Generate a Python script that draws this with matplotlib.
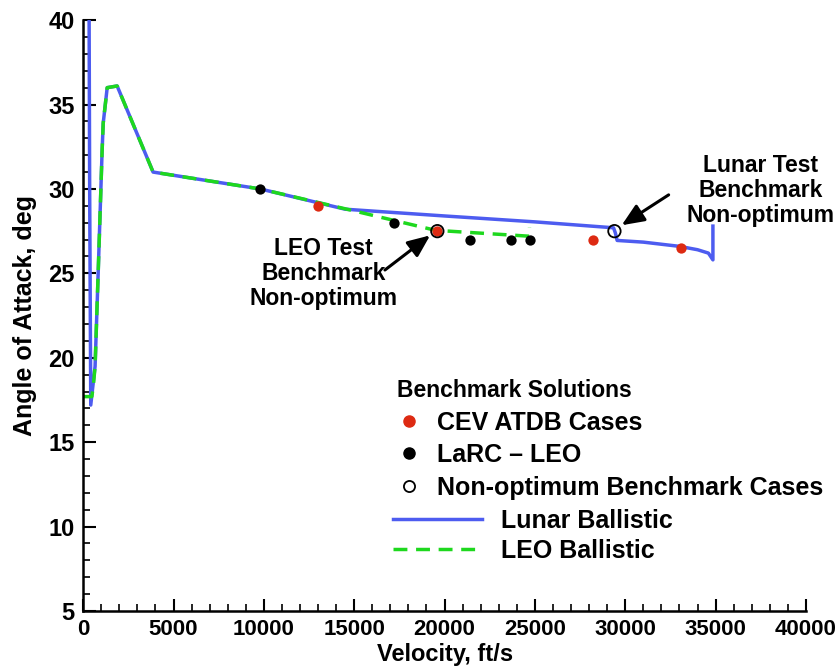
import numpy as np
import matplotlib.pyplot as plt
from matplotlib.lines import Line2D
from matplotlib.ticker import MultipleLocator

plt.rcParams['font.family'] = ['Liberation Sans', 'DejaVu Sans']
plt.rcParams['font.weight'] = 'bold'

# trajectories (velocity ft/s, angle of attack deg)
lunar_v = [330, 360, 420, 660, 830, 1050, 1110, 1330, 1880, 3870, 9800, 14500,
           20000, 25000, 29350, 29450, 29550, 31000, 33000, 34000, 34600, 34850, 34850]
lunar_a = [40.0, 30.0, 17.2, 19.5, 25.0, 32.3, 33.9, 36.0, 36.1, 31.0, 30.0, 28.8,
           28.4, 28.05, 27.7, 27.4, 26.95, 26.85, 26.6, 26.4, 26.2, 25.8, 27.8]
leo_v = [0, 480, 560, 660, 830, 1050, 1110, 1330, 1880, 3870, 9800, 14600,
         19500, 24700, 24700]
leo_a = [17.7, 17.7, 18.3, 19.5, 25.0, 32.3, 33.9, 36.0, 36.1, 31.0, 30.0, 28.8,
         27.55, 27.2, 27.7]

# benchmark points
cev_v = [13000, 19600, 28200, 33100]
cev_a = [29.0, 27.5, 27.0, 26.5]
larc_v = [9800, 17200, 21400, 23700, 24700]
larc_a = [30.0, 28.0, 27.0, 27.0, 27.0]
nonopt_v = [19600, 29400]
nonopt_a = [27.5, 27.5]

blue = '#4d5cf0'
green = '#1ed81e'
red = '#dd2a12'

fig = plt.figure(figsize=(8.4, 6.71), dpi=100)
ax = fig.add_axes([0.099, 0.0894, 0.8605, 0.8806])

ax.plot(lunar_v, lunar_a, color=blue, lw=2.5, solid_joinstyle='round')
ax.plot(leo_v, leo_a, color=green, lw=2.5, ls=(0, (4, 2.5)))
ax.scatter(cev_v, cev_a, s=55, color=red, zorder=3, linewidths=0)
ax.scatter(larc_v, larc_a, s=55, color='black', zorder=3, linewidths=0)
ax.scatter(nonopt_v, nonopt_a, s=80, facecolors='none', edgecolors='black',
           linewidths=1.3, zorder=4)

arrow = dict(arrowstyle='-|>,head_length=0.75,head_width=0.32', color='black', lw=2.2,
             mutation_scale=18, shrinkA=0, shrinkB=0)
ax.text(13300, 25.0, 'LEO Test\nBenchmark\nNon-optimum', ha='center', va='center',
        fontsize=16.5, fontweight='bold', linespacing=1.1)
ax.annotate('', xy=(19200, 27.25), xytext=(16700, 25.2), arrowprops=arrow)
ax.text(37500, 29.9, 'Lunar Test\nBenchmark\nNon-optimum', ha='center', va='center',
        fontsize=16.5, fontweight='bold', linespacing=1.1)
ax.annotate('', xy=(29800, 27.85), xytext=(32400, 29.65), arrowprops=arrow)

ax.set_xlim(0, 40000)
ax.set_ylim(5, 40)
ax.xaxis.set_major_locator(MultipleLocator(5000))
ax.xaxis.set_minor_locator(MultipleLocator(1000))
ax.yaxis.set_major_locator(MultipleLocator(5))
ax.yaxis.set_minor_locator(MultipleLocator(1))
ax.tick_params(which='major', direction='in', length=9, width=1.5, labelsize=16, pad=6)
ax.tick_params(which='minor', direction='in', length=5, width=1.2)
ax.tick_params(axis='y', which='major', labelsize=17)
for lab in ax.get_xticklabels():
    lab.set_family(['Liberation Sans Narrow', 'Liberation Sans'])
    lab.set_fontweight('bold')
for lab in ax.get_yticklabels():
    lab.set_fontweight('bold')
ax.spines['top'].set_visible(False)
ax.spines['right'].set_visible(False)
ax.spines['left'].set_linewidth(1.8)
ax.spines['bottom'].set_linewidth(1.8)

ax.set_xlabel('Velocity, ft/s', fontsize=17, fontweight='bold', labelpad=2)
ax.set_ylabel('Angle of Attack, deg', fontsize=18, fontweight='bold', labelpad=8)

mk = [Line2D([], [], ls='none', marker='o', ms=8, mfc=red, mec=red),
      Line2D([], [], ls='none', marker='o', ms=8, mfc='black', mec='black'),
      Line2D([], [], ls='none', marker='o', ms=8, mfc='none', mec='black', mew=1.3)]
leg1 = ax.legend(mk, ['CEV ATDB Cases', 'LaRC \u2013 LEO', 'Non-optimum Benchmark Cases'],
                 title='Benchmark Solutions', loc='upper left',
                 bbox_to_anchor=(0.434, 0.3926), frameon=False, fontsize=18,
                 title_fontsize=16.5, handlelength=1.0, handletextpad=0.6,
                 labelspacing=0.34, borderpad=0, borderaxespad=0)
leg1._legend_box.align = 'left'
leg1.get_title().set_fontweight('bold')
ax.add_artist(leg1)
ln = [Line2D([], [], color=blue, lw=2.5),
      Line2D([], [], color=green, lw=2.5, ls=(0, (4, 2.5)))]
ax.legend(ln, ['Lunar Ballistic', 'LEO Ballistic'], loc='upper left',
          bbox_to_anchor=(0.429, 0.173), frameon=False, fontsize=18,
          handlelength=3.55, handletextpad=0.75, labelspacing=0.25, borderpad=0,
          borderaxespad=0)

fig.savefig('out.png', dpi=100)
